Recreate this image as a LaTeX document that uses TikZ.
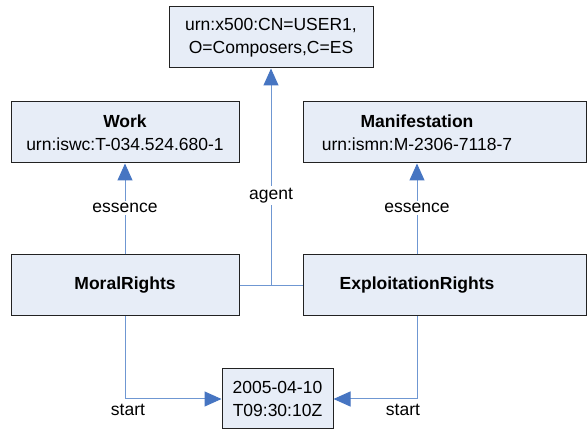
\documentclass[tikz,border=0pt]{standalone}
\usepackage{fontspec}
\setmainfont{Liberation Sans}
\usetikzlibrary{arrows.meta}
\definecolor{boxfill}{HTML}{E7EDF7}
\definecolor{boxline}{HTML}{222222}
\definecolor{linec}{HTML}{6F97D2}
\definecolor{arrowc}{HTML}{4675C2}
\tikzset{
  box/.style={draw=boxline, fill=boxfill, line width=1pt, align=center, inner sep=0pt,
    font=\fontsize{17.5pt}{23pt}\selectfont, minimum height=61pt},
  boxtext/.style={align=center, inner sep=0pt, font=\fontsize{17.5pt}{23pt}\selectfont},
  conn/.style={draw=linec, line width=1pt},
  arr/.style={conn, -{Triangle[width=15pt,length=17pt,color=arrowc]}},
  lbl/.style={fill=white, inner sep=2pt, font=\fontsize{17.5pt}{21pt}\selectfont, text=black}
}
\begin{document}
\begin{tikzpicture}[x=1pt,y=-1pt]
\useasboundingbox (0,0) rectangle (587,430);
\node[box, minimum width=204pt] (top) at (271,37.5) {urn:x500:CN=USER1,\\O=Composers,C=ES};
\node[box, minimum width=228pt] (work) at (125,132.5) {\textbf{Work}\\urn:iswc:T-034.524.680-1};
\node[box, minimum width=283pt] (manif) at (444.5,132.5) {};
\node[boxtext] (manift) at (417,132.5) {\textbf{Manifestation}\\urn:ismn:M-2306-7118-7};
\node[box, minimum width=228pt] (moral) at (125,285.5) {\textbf{MoralRights}};
\node[box, minimum width=283pt] (exploit) at (444.5,285.5) {};
\node[boxtext] (exploitt) at (417,285.5) {\textbf{ExploitationRights}};
\node[box, minimum width=111pt, minimum height=60pt] (date) at (277.5,399) {2005-04-10\\T09:30:10Z};
\coordinate (j) at (271,285.5);
\coordinate (rx) at (417,0);
\draw[conn] (moral.east) -- (exploit.west);
\draw[arr] (j) -- node[lbl, pos=0.415] {agent} (top.south);
\draw[arr] (moral.north) -- node[lbl, pos=0.51] {essence} (work.south);
\draw[arr] (rx |- exploit.north) -- node[lbl, pos=0.51] {essence} (rx |- manif.south);
\draw[arr] (moral.south) |- node[lbl, pos=0.5, xshift=3pt, yshift=-11pt] {start} (date.west);
\draw[arr] (rx |- exploit.south) |- node[lbl, pos=0.5, xshift=-14pt, yshift=-11pt] {start} (date.east);
\end{tikzpicture}
\end{document}
